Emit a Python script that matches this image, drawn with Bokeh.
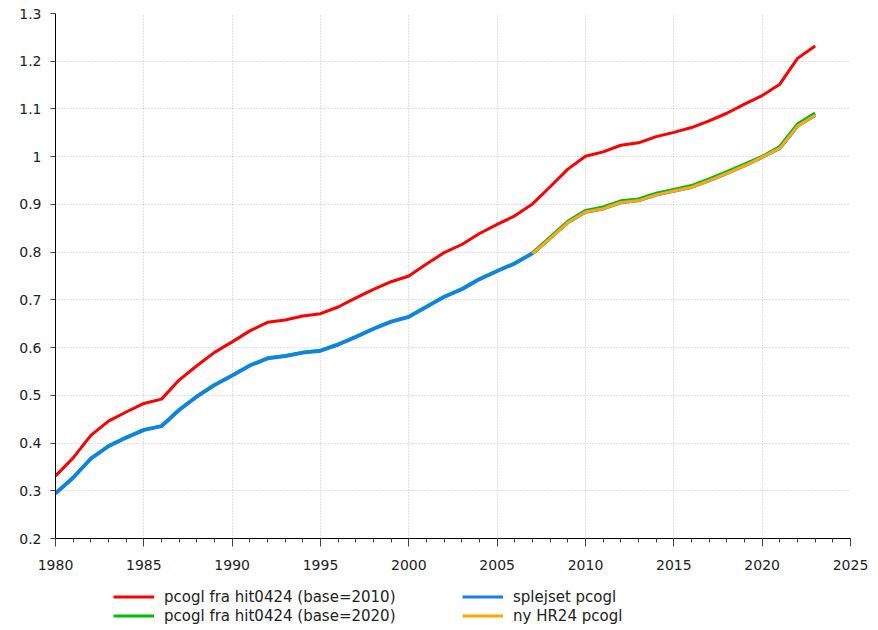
from bokeh.plotting import figure
from bokeh.models import (Legend, LegendItem, SingleIntervalTicker, CustomJSTickFormatter, Range1d)
from bokeh.layouts import column
from bokeh.embed import file_html
from bokeh.resources import INLINE

years = list(range(1980, 2024))

red_2010 = [0.331, 0.369, 0.416, 0.446, 0.465, 0.483, 0.492, 0.532, 0.562, 0.590,
            0.612, 0.635, 0.653, 0.658, 0.666, 0.671, 0.685, 0.704, 0.722, 0.738,
            0.750, 0.775, 0.799, 0.816, 0.839, 0.858, 0.876, 0.901, 0.937, 0.974,
            1.001, 1.010, 1.024, 1.029, 1.042, 1.051, 1.061, 1.075, 1.091, 1.110,
            1.128, 1.152, 1.206, 1.232]

green_2020 = [0.295, 0.328, 0.368, 0.394, 0.412, 0.428, 0.436, 0.470, 0.498, 0.522,
              0.542, 0.563, 0.578, 0.583, 0.590, 0.594, 0.607, 0.623, 0.640, 0.655,
              0.665, 0.686, 0.707, 0.723, 0.744, 0.761, 0.777, 0.798, 0.831, 0.864,
              0.887, 0.894, 0.907, 0.911, 0.923, 0.931, 0.939, 0.953, 0.968, 0.984,
              1.000, 1.021, 1.068, 1.091]

splejset = [0.294, 0.327, 0.367, 0.393, 0.411, 0.427, 0.435, 0.469, 0.497, 0.521,
            0.541, 0.562, 0.577, 0.582, 0.589, 0.593, 0.606, 0.622, 0.639, 0.654,
            0.664, 0.685, 0.706, 0.722, 0.743, 0.760, 0.776, 0.797, 0.829, 0.862,
            0.884, 0.891, 0.904, 0.908, 0.920, 0.928, 0.936, 0.950, 0.965, 0.981,
            0.999, 1.018, 1.064, 1.087]

ny_years = list(range(2007, 2024))
ny_hr24 = [0.797, 0.829, 0.862, 0.884, 0.891, 0.904, 0.908, 0.920, 0.928, 0.936,
           0.950, 0.965, 0.981, 0.999, 1.018, 1.064, 1.087]

labels = ["pcogl fra hit0424 (base=2010)", "splejset pcogl",
          "pcogl fra hit0424 (base=2020)", "ny HR24 pcogl"]
colors = ["#ff0000", "#0f80f0", "#00c000", "#ffaa00"]

FONT = "DejaVu Sans"

p = figure(width=878, height=575, output_backend="svg", toolbar_location=None,
           x_range=Range1d(1980, 2025), y_range=Range1d(0.2, 1.3),
           min_border_left=55, min_border_right=28, min_border_top=13, min_border_bottom=37)
p.outline_line_color = None
p.background_fill_color = "white"

r_red = p.line(years, red_2010, line_color=colors[0], line_width=3)
r_green = p.line(years, green_2020, line_color=colors[2], line_width=3.5)
r_blue = p.line(years, splejset, line_color=colors[1], line_width=3.5)
r_orange = p.line(ny_years, ny_hr24, line_color=colors[3], line_width=3)

# axes
p.xaxis.ticker = SingleIntervalTicker(interval=5, num_minor_ticks=5)
p.yaxis.ticker = SingleIntervalTicker(interval=0.1, num_minor_ticks=0)
p.yaxis.formatter = CustomJSTickFormatter(code="return (Math.round(tick*10)/10).toString();")

for ax in (p.xaxis, p.yaxis):
    ax.axis_line_color = "black"
    ax.axis_line_width = 1
    ax.major_tick_line_color = "#444444"
    ax.minor_tick_line_color = "#444444"
    ax.major_tick_in = 0
    ax.minor_tick_in = 0
    ax.major_label_text_font = FONT
    ax.major_label_text_font_size = "14px"
    ax.major_label_text_color = "#222222"

p.xaxis.major_tick_out = 8
p.xaxis.minor_tick_out = 4
p.xaxis.major_label_standoff = 13
p.yaxis.major_tick_out = 5
p.yaxis.minor_tick_out = 0
p.yaxis.major_label_standoff = 9

p.xgrid.ticker = p.xaxis.ticker
p.ygrid.ticker = p.yaxis.ticker
for g in (p.xgrid, p.ygrid):
    g.grid_line_color = "#c4c4c4"
    g.grid_line_dash = "1 2"
    g.grid_line_width = 1

# legend figure below the chart (frame aligned with main chart frame)
nan = float("nan")
lg = figure(width=878, height=55, output_backend="svg", toolbar_location=None,
            x_range=Range1d(0, 1), y_range=Range1d(0, 1),
            x_axis_location=None, y_axis_location=None,
            min_border_left=0, min_border_right=0, min_border_top=0, min_border_bottom=0)
lg.outline_line_color = None
lg.xgrid.visible = False
lg.ygrid.visible = False
lr = [lg.line([nan], [nan], line_color=c, line_width=3) for c in colors]

legend = Legend(items=[LegendItem(label=labels[i], renderers=[lr[i]]) for i in range(4)],
                orientation="horizontal", ncols=2, location=(58, 5))
legend.label_text_font = FONT
legend.label_text_font_size = "15px"
legend.label_text_color = "#222222"
legend.glyph_width = 41
legend.glyph_height = 19
legend.label_height = 19
legend.label_width = 298
legend.label_standoff = 10
legend.spacing = 0
legend.padding = 0
legend.margin = 0
legend.border_line_color = None
legend.background_fill_alpha = 0
lg.add_layout(legend, "center")

layout = column(p, lg, spacing=0)
open("out.html", "w").write(file_html(layout, INLINE))
